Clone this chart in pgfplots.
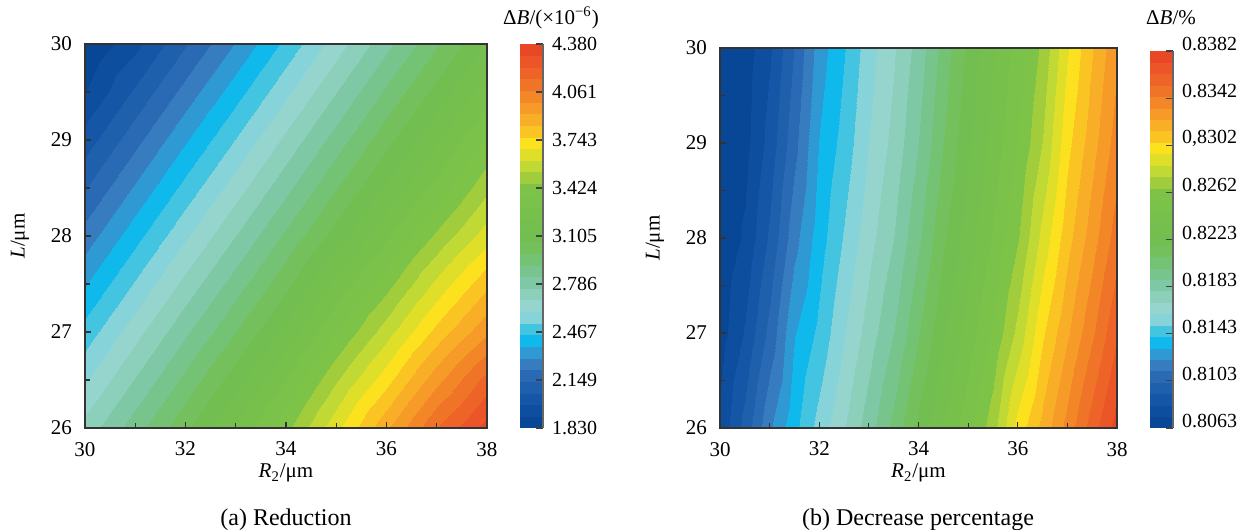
\documentclass[border=0pt]{standalone}
\usepackage{fontspec}
\setmainfont{Liberation Serif}
\usepackage{pgfplots}
\pgfplotsset{compat=1.18}

\pgfplotsset{
  colormap={base}{rgb255(0cm)=(8,70,150); rgb255(6cm)=(20,86,165); rgb255(12.5cm)=(42,106,180);
    rgb255(16cm)=(55,126,192); rgb255(19cm)=(45,155,212); rgb255(22cm)=(15,186,236);
    rgb255(26cm)=(85,200,222); rgb255(29cm)=(155,216,216); rgb255(33cm)=(146,210,196);
    rgb255(37.5cm)=(126,200,165); rgb255(42cm)=(116,195,130); rgb255(46cm)=(115,192,95);
    rgb255(50cm)=(115,190,80); rgb255(62.5cm)=(125,195,72); rgb255(66cm)=(165,206,60);
    rgb255(70cm)=(205,222,48); rgb255(75cm)=(252,226,30); rgb255(78cm)=(250,198,35);
    rgb255(82cm)=(248,170,40); rgb255(87.5cm)=(243,135,40); rgb255(93cm)=(238,102,40);
    rgb255(100cm)=(232,72,38)},
  colormap={steps}{samples of colormap=(33 of base)},
  contourax/.style={
    scale only axis,
    xmin=30, xmax=38, ymin=26, ymax=30,
    xtick={30,32,34,36,38}, minor xtick={31,33,35,37},
    ytick={26,27,28,29,30}, minor ytick={26.5,27.5,28.5,29.5},
    xtick pos=left, ytick pos=left, tick align=inside,
    major tick length=3pt, minor tick length=2.5pt,
    axis line style={draw=black!80, line width=0.6pt},
    tick style={black!80, line width=0.6pt},
    colormap name=steps, colormap access=piecewise constant,
    /pgf/number format/assume math mode=true,
    ticklabel style={font=\fontsize{10.5}{12}\selectfont},
    xticklabel style={yshift=-3.5pt},
    yticklabel style={xshift=-3pt},
    label style={font=\fontsize{10.5}{12}\selectfont},
    xlabel={\textit{R}\textsubscript{2}/μm},
    ylabel={\textit{L}/μm},
    xlabel style={yshift=3pt},
    ylabel style={yshift=4pt},
    axis on top,
    colorbar right,
  },
  cbar/.style={
    at={(parent axis.south east)}, anchor=south west, xshift=8pt,
    scale only axis, width=11.5pt,
    axis x line=none, axis y line*=right,
    y axis line style={draw=black!60, line width=0.6pt},
    tick align=inside, major tick length=3.5pt,
    tick style={black!75, line width=0.6pt},
    yticklabel style={font=\fontsize{10}{12}\selectfont, xshift=1pt},
  },
}

\begin{document}
\begin{tikzpicture}
\useasboundingbox (0,0) rectangle (624.5pt,265pt);

% (a) reduction
\begin{axis}[contourax,
  at={(42.5pt,51pt)}, anchor=south west,
  width=201pt, height=192pt,
  point meta min=1.830, point meta max=4.380,
  colorbar style={cbar, height=192pt,
    ytick={1.830,2.14875,2.4675,2.78625,3.105,3.42375,3.7425,4.06125,4.380},
    yticklabels={1.830,2.149,2.467,2.786,3.105,3.424,3.743,4.061,4.380}},
]
\addplot[surf, shader=interp, mesh/cols=9, point meta=explicit] table[x=x, y=y, meta=z] {
x y z
30 26 2.708
31 26 2.878
32 26 3.048
33 26 3.230
34 26 3.430
35 26 3.660
36 26 3.900
37 26 4.150
38 26 4.339
30 26.5 2.593
31 26.5 2.763
32 26.5 2.933
33 26.5 3.110
34 26.5 3.300
35 26.5 3.520
36 26.5 3.730
37 26.5 3.970
38 26.5 4.180
30 27 2.479
31 27 2.649
32 27 2.819
33 27 2.989
34 27 3.165
35 27 3.370
36 27 3.570
37 27 3.790
38 27 3.980
30 27.5 2.364
31 27.5 2.534
32 27.5 2.704
33 27.5 2.874
34 27.5 3.044
35 27.5 3.240
36 27.5 3.420
37 27.5 3.630
38 27.5 3.820
30 28 2.249
31 28 2.419
32 28 2.589
33 28 2.759
34 28 2.929
35 28 3.099
36 28 3.280
37 28 3.470
38 28 3.649
30 28.5 2.134
31 28.5 2.304
32 28.5 2.474
33 28.5 2.644
34 28.5 2.814
35 28.5 2.984
36 28.5 3.154
37 28.5 3.324
38 28.5 3.509
30 29 2.020
31 29 2.190
32 29 2.360
33 29 2.530
34 29 2.700
35 29 2.870
36 29 3.040
37 29 3.210
38 29 3.381
30 29.5 1.905
31 29.5 2.075
32 29.5 2.245
33 29.5 2.415
34 29.5 2.585
35 29.5 2.755
36 29.5 2.925
37 29.5 3.095
38 29.5 3.265
30 30 1.790
31 30 1.960
32 30 2.130
33 30 2.300
34 30 2.470
35 30 2.640
36 30 2.810
37 30 2.980
38 30 3.150
};
\end{axis}

% (b) decrease percentage
\begin{axis}[contourax,
  at={(360pt,51pt)}, anchor=south west,
  width=198.5pt, height=190pt,
  point meta min=0.8063, point meta max=0.8382,
  colorbar style={cbar, height=188.5pt,
    ytick={0.8063,0.81029,0.81428,0.81826,0.82225,0.82624,0.83023,0.83421,0.8382},
    yticklabels={0.8063,0.8103,0.8143,0.8183,0.8223,0.8262,{0,8302},0.8342,0.8382},
    yticklabel style={yshift=3.5pt}},
]
\addplot[surf, shader=interp, mesh/cols=17, point meta=explicit] table[x=x, y=y, meta=z] {
x y z
30 26 0.80750
30.5 26 0.80956
31 26 0.81198
31.5 26 0.81373
32 26 0.81535
32.5 26 0.81685
33 26 0.81844
33.5 26 0.82016
34 26 0.82207
34.5 26 0.82366
35 26 0.82526
35.5 26 0.82717
36 26 0.82989
36.5 26 0.83180
37 26 0.83371
37.5 26 0.83579
38 26 0.83770
30 27 0.80680
30.5 27 0.80833
31 27 0.81050
31.5 27 0.81297
32 27 0.81428
32.5 27 0.81589
33 27 0.81740
33.5 27 0.81888
34 27 0.82076
34.5 27 0.82255
35 27 0.82412
35.5 27 0.82578
36 27 0.82788
36.5 27 0.83035
37 27 0.83224
37.5 27 0.83416
38 27 0.83617
30 28 0.80645
30.5 28 0.80743
31 28 0.80940
31.5 28 0.81174
32 28 0.81357
32.5 28 0.81509
33 28 0.81658
33.5 28 0.81792
34 28 0.81971
34.5 28 0.82158
35 28 0.82321
35.5 28 0.82476
36 28 0.82653
36.5 28 0.82890
37 28 0.83105
37.5 28 0.83291
38 28 0.83486
30 29 0.80618
30.5 29 0.80693
31 29 0.80863
31.5 29 0.81080
32 29 0.81310
32.5 29 0.81442
33 29 0.81598
33.5 29 0.81726
34 29 0.81891
34.5 29 0.82076
35 29 0.82252
35.5 29 0.82405
36 29 0.82566
36.5 29 0.82764
37 29 0.83015
37.5 29 0.83199
38 29 0.83385
30 30 0.80600
30.5 30 0.80674
31 30 0.80811
31.5 30 0.81017
32 30 0.81257
32.5 30 0.81396
33 30 0.81557
33.5 30 0.81682
34 30 0.81836
34.5 30 0.82020
35 30 0.82203
35.5 30 0.82357
36 30 0.82509
36.5 30 0.82689
37 30 0.82937
37.5 30 0.83136
38 30 0.83319
};
\end{axis}

\node[font=\fontsize{10.5}{12}\selectfont] at (275.5pt,256pt) {Δ\textit{B}/(×10\textsuperscript{−6})};
\node[font=\fontsize{10.5}{12}\selectfont] at (585.5pt,256pt) {Δ\textit{B}/\%};
\node[font=\fontsize{12}{14}\selectfont] at (143pt,5pt) {(a) Reduction};
\node[font=\fontsize{12}{14}\selectfont] at (459pt,5pt) {(b) Decrease percentage};
\end{tikzpicture}
\end{document}
